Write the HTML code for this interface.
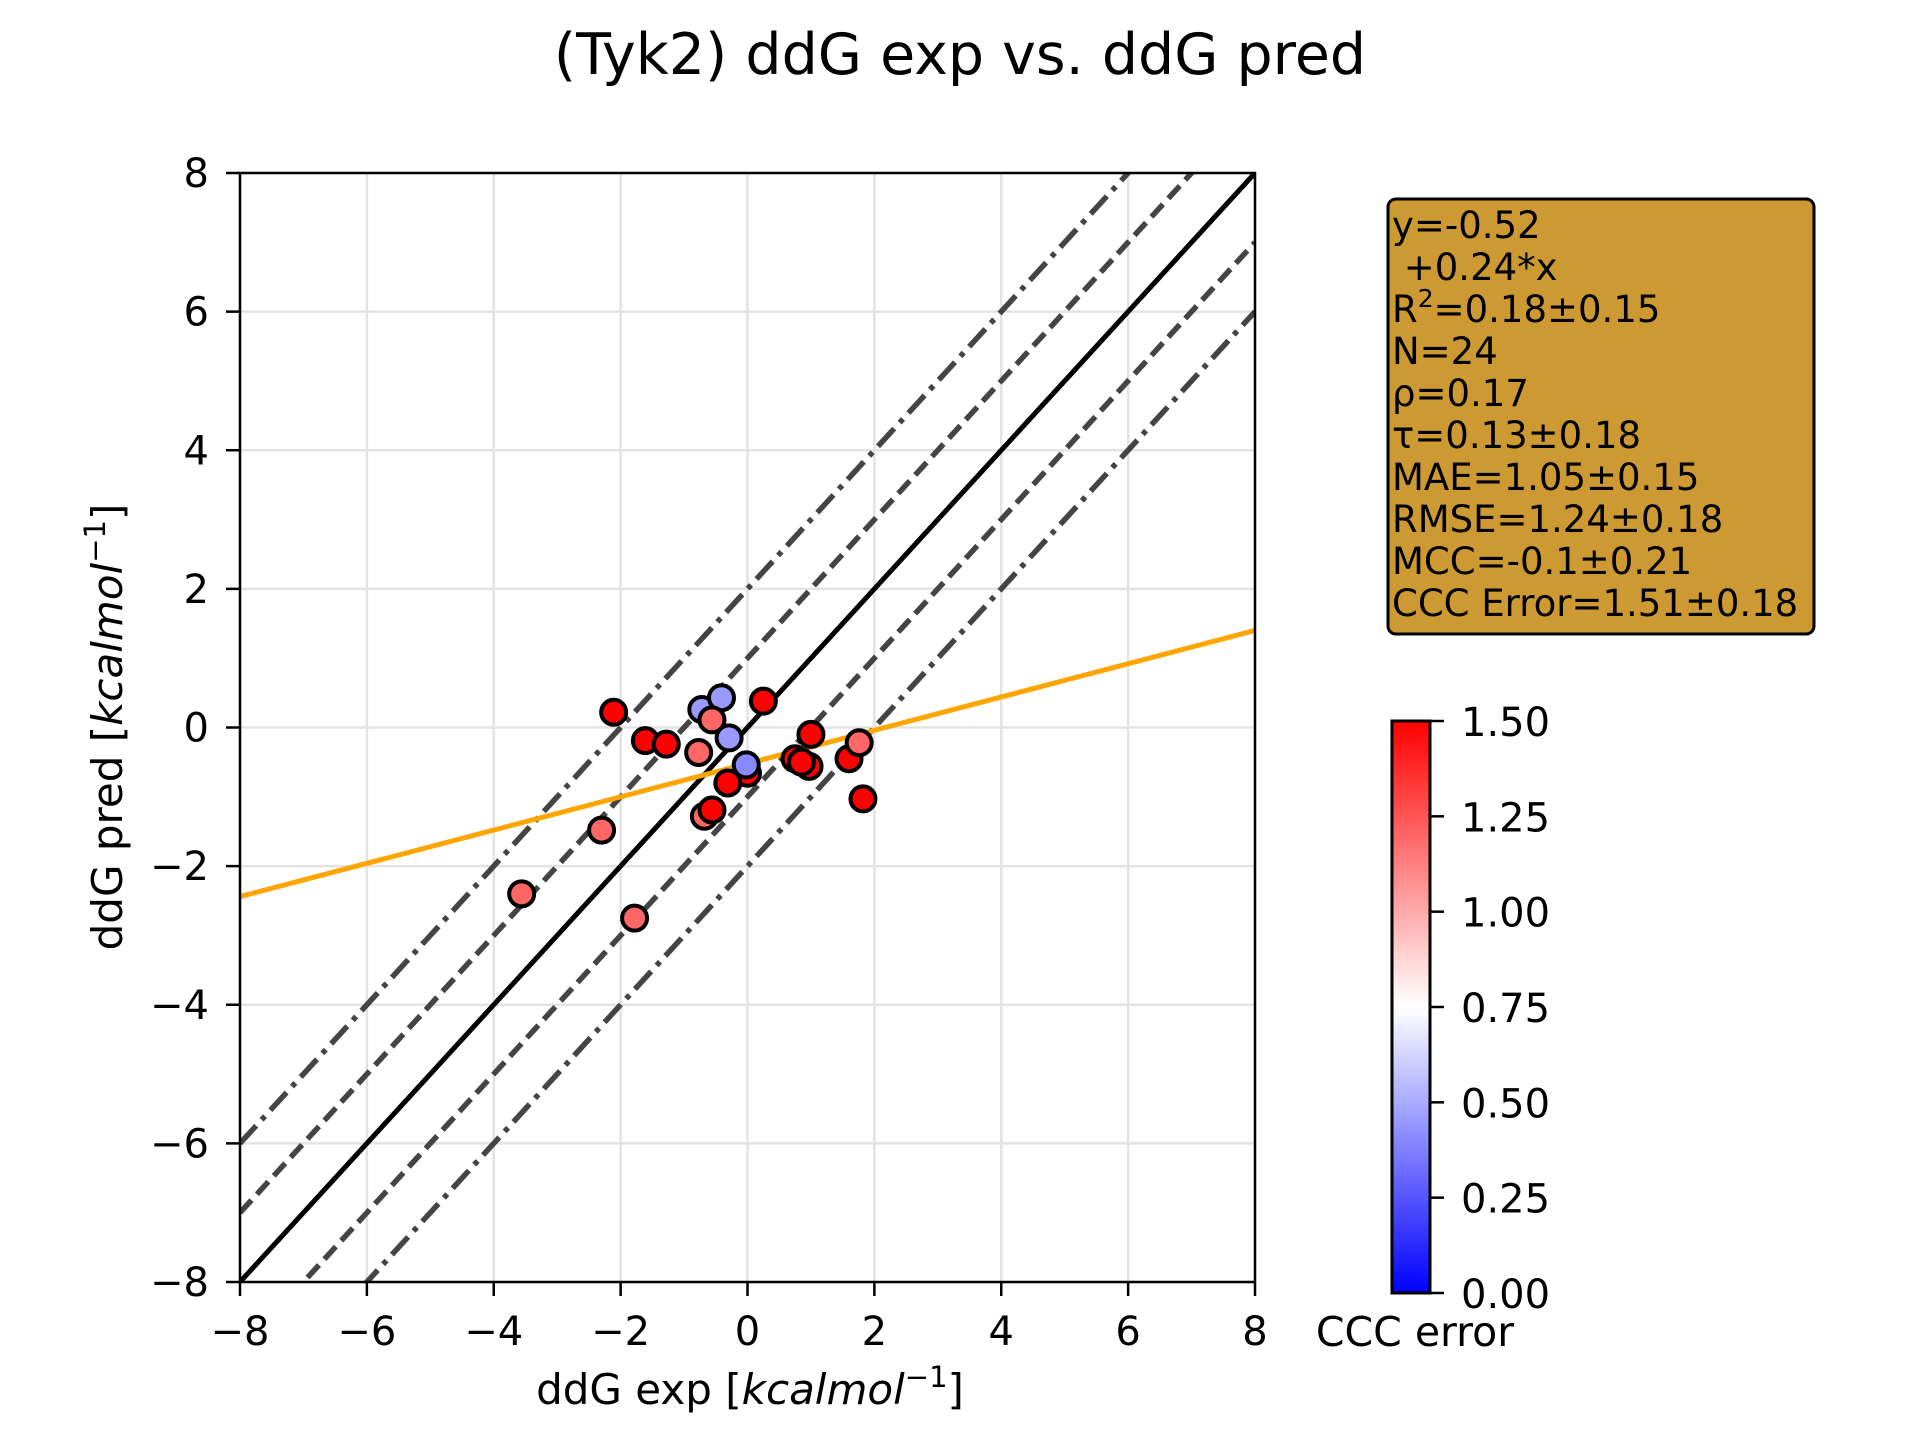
<!DOCTYPE html>
<html><head><meta charset="utf-8"><style>
html,body{margin:0;padding:0;background:#fff;}
svg{display:block;font-family:"DejaVu Sans","Liberation Sans",sans-serif;}
</style></head><body>
<svg id="chart" width="1920" height="1440" viewBox="0 0 1920 1440" xmlns="http://www.w3.org/2000/svg">
<defs>
<linearGradient id="bwr" x1="0" y1="1" x2="0" y2="0">
<stop offset="0" stop-color="#0000ff"/><stop offset="0.5" stop-color="#ffffff"/><stop offset="1" stop-color="#ff0000"/>
</linearGradient>
<clipPath id="plotclip"><rect x="240" y="173" width="1015" height="1109"/></clipPath>
</defs>
<text x="960" y="74" font-size="57" text-anchor="middle">(Tyk2) ddG exp vs. ddG pred</text>
<g id="grid"></g>
<g id="lines" clip-path="url(#plotclip)"></g>
<g id="points"></g>
<rect x="240" y="173" width="1015" height="1109" fill="none" stroke="#000" stroke-width="2.5"/>
<g id="xticks"></g>
<g id="yticks"></g>
<text x="750" y="1404" font-size="42" text-anchor="middle">ddG exp [<tspan font-style="italic">kcalmol</tspan><tspan font-size="29" dy="-17">−1</tspan><tspan dy="17">]</tspan></text>
<text transform="translate(122,727) rotate(-90)" font-size="42" text-anchor="middle">ddG pred [<tspan font-style="italic">kcalmol</tspan><tspan font-size="29" dy="-17">−1</tspan><tspan dy="17">]</tspan></text>
<g>
<rect x="1388" y="199" width="426" height="435" rx="8" fill="#cc9933" stroke="#000" stroke-width="3"/>
<g font-size="37" fill="#000" xml:space="preserve">
<text x="1392" y="238">y=-0.52</text>
<text x="1392" y="280">&#160;+0.24*x</text>
<text x="1392" y="322">R<tspan font-size="25" dy="-15">2</tspan><tspan dy="15">=0.18±0.15</tspan></text>
<text x="1392" y="364">N=24</text>
<text x="1392" y="406">ρ=0.17</text>
<text x="1392" y="448">τ=0.13±0.18</text>
<text x="1392" y="490">MAE=1.05±0.15</text>
<text x="1392" y="532">RMSE=1.24±0.18</text>
<text x="1392" y="574">MCC=-0.1±0.21</text>
<text x="1392" y="616">CCC Error=1.51±0.18</text>
</g>
</g>
<g id="colorbar">
<rect x="1392" y="721" width="38" height="572" fill="url(#bwr)" stroke="#000" stroke-width="3"/>
</g>
<text x="1415" y="1346" font-size="41" text-anchor="middle">CCC error</text>
<script>
const xTicks=[-8,-6,-4,-2,0,2,4,6,8];
const yTicks=[-8,-6,-4,-2,0,2,4,6,8];
const cbTicks=[0,0.25,0.5,0.75,1.0,1.25,1.5];
const expVals=[-2.11,-0.72,-0.41,-0.56,0.25,-0.29,-1.61,-1.28,-0.77,0.0,-0.02,-0.31,-0.68,-0.56,1.0,0.75,0.97,1.6,1.76,1.82,-2.3,-3.56,-1.78,0.85];
const predVals=[0.22,0.26,0.43,0.11,0.38,-0.15,-0.19,-0.24,-0.36,-0.66,-0.54,-0.80,-1.28,-1.19,-0.1,-0.45,-0.56,-0.45,-0.22,-1.03,-1.48,-2.4,-2.75,-0.5];
const cccVals=[1.5,0.45,0.45,1.2,1.5,0.45,1.5,1.5,1.2,1.5,0.4,1.5,1.2,1.5,1.5,1.5,1.5,1.5,1.2,1.5,1.2,1.2,1.2,1.5];
const fitIntercept=-0.52, fitSlope=0.24;
const NS='http://www.w3.org/2000/svg';
const X=v=>240+(v+8)*1015/16;
const Y=v=>1282-(v+8)*1109/16;
const CB=v=>1293-v/1.5*572;
function mk(tag,attrs,parent){const e=document.createElementNS(NS,tag);for(const k in attrs)e.setAttribute(k,attrs[k]);parent.appendChild(e);return e;}
function bwr(c){let t=Math.max(0,Math.min(1,c/1.5));let r,g,b;
 if(t<0.5){r=g=Math.round(255*t*2);b=255;}else{r=255;g=b=Math.round(255*(1-t)*2);}
 return `rgb(${r},${g},${b})`;}
const grid=document.getElementById('grid');
xTicks.forEach(t=>{const l=mk('line',{x1:X(t),x2:X(t),y1:173,y2:1282,stroke:'#e3e3e3','stroke-width':2.5},grid);

});
yTicks.forEach(t=>{const l=mk('line',{x1:240,x2:1255,y1:Y(t),y2:Y(t),stroke:'#e3e3e3','stroke-width':2.5},grid);

});
const lines=document.getElementById('lines');
[[2,'24,8,5,8'],[1,'17,8'],[-1,'17,8'],[-2,'24,8,5,8']].forEach(([o,d])=>{
const l=mk('line',{x1:X(-8),y1:Y(-8+o),x2:X(8),y2:Y(8+o),stroke:'#444','stroke-width':5.5,'stroke-dasharray':d},lines);

});
const id=mk('line',{x1:X(-8),y1:Y(-8),x2:X(8),y2:Y(8),stroke:'#000','stroke-width':5},lines);


const fit=mk('line',{x1:X(-8),y1:Y(fitIntercept+fitSlope*-8),x2:X(8),y2:Y(fitIntercept+fitSlope*8),stroke:'#ffa500','stroke-width':5},lines);


const pts=document.getElementById('points');
expVals.forEach((x,i)=>{const c=mk('circle',{cx:X(x),cy:Y(predVals[i]),r:12.5,fill:bwr(cccVals[i]),stroke:'#000','stroke-width':4},pts);

});
const xt=document.getElementById('xticks');
xTicks.forEach(t=>{mk('line',{x1:X(t),x2:X(t),y1:1282,y2:1296,stroke:'#000','stroke-width':2.5},xt);
const s=mk('text',{x:X(t),y:1345,'font-size':40,'text-anchor':'middle'},xt);s.textContent=t<0?'−'+(-t):String(t);

});
const yt=document.getElementById('yticks');
yTicks.forEach(t=>{mk('line',{x1:226,x2:240,y1:Y(t),y2:Y(t),stroke:'#000','stroke-width':2.5},yt);
const s=mk('text',{x:209,y:Y(t)+14,'font-size':40,'text-anchor':'end'},yt);s.textContent=t<0?'−'+(-t):String(t);

});
const cb=document.getElementById('colorbar');
cbTicks.forEach(t=>{mk('line',{x1:1430,x2:1444,y1:CB(t),y2:CB(t),stroke:'#000','stroke-width':2.5},cb);
const s=mk('text',{x:1461,y:CB(t)+15,'font-size':40},cb);s.textContent=t.toFixed(2);

});
</script>
</svg>
</body></html>
